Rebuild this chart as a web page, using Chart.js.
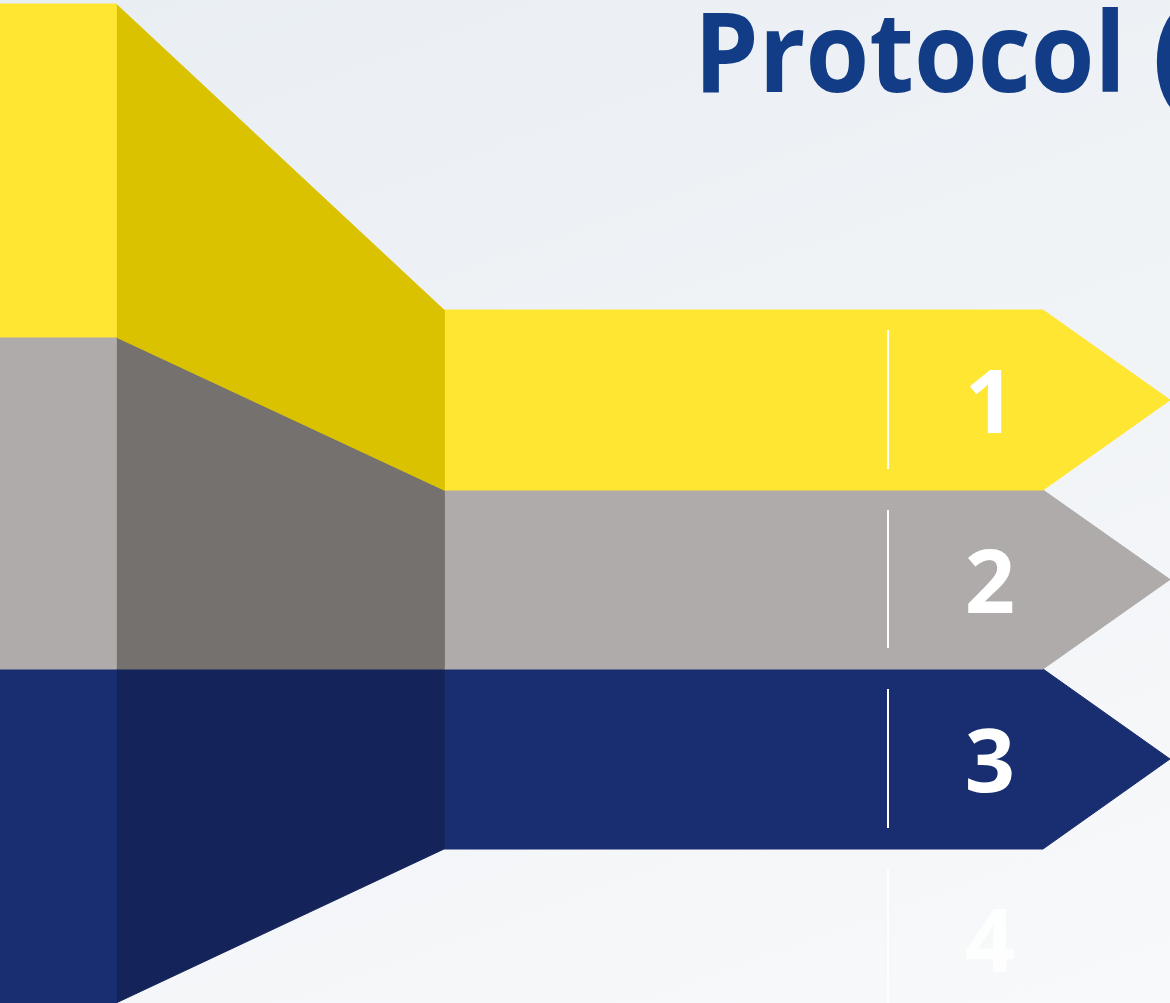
<!DOCTYPE html>
<html>
<head>
<meta charset="utf-8">
<script src="https://cdn.jsdelivr.net/npm/chart.js@4.4.1/dist/chart.umd.min.js"></script>
<style>
    html, body {
        margin: 0;
        padding: 0;
        width: 1170px;
        height: 1003px;
        overflow: hidden;
        background: linear-gradient(160deg, #e9eef3 0%, #f1f4f7 55%, #f8f9fb 100%);
        font-family: "Open Sans", sans-serif;
    }
    #wrap {
        position: absolute;
        left: 0;
        top: 0;
        width: 1170px;
        height: 1003px;
    }
    #title {
        position: absolute;
        left: 694px;
        top: -28px;
        margin: 0;
        font-size: 112px;
        font-weight: 700;
        line-height: normal;
        color: #123c85;
        white-space: nowrap;
        transform-origin: left top;
    }
</style>
</head>
<body>
<div id="wrap">
    <canvas id="funnelChart"></canvas>
</div>
<h1 id="title"><span id="titleWord">Protocol</span> (</h1>

<script>
// Steps of the funnel
const steps = ['1', '2', '3', '4'];

// Band edges on the vertical axis (axis runs 0 at top to 1003 at bottom)
const columnEdges = [4, 337, 669, 1003];
const arrowEdges = [310, 490, 669, 849, 1029];

// Stages along the horizontal axis
const stageX = [-4, 116, 444, 1043, 1170];
const dividerX = 888;
const labelX = 990;

const faceColors = ['#ffe632', '#afabaa', '#192e70'];
const sideColors = ['#dbc200', '#75716f', '#14245a'];

function shape(points, color) {
    return {
        data: points.map(p => ({ x: p[0], y: p[1] })),
        borderColor: color,
        backgroundColor: color,
        borderWidth: 1,
        pointRadius: 0,
        tension: 0,
        fill: 'shape',
        order: 2
    };
}

const datasets = [];
for (let i = 0; i < 3; i++) {
    const cTop = columnEdges[i], cBot = columnEdges[i + 1];
    const aTop = arrowEdges[i], aBot = arrowEdges[i + 1];
    const mid = (aTop + aBot) / 2;

    // left column block
    datasets.push(shape([[stageX[0], cTop], [stageX[1], cTop], [stageX[1], cBot], [stageX[0], cBot], [stageX[0], cTop]], faceColors[i]));
    // slanted side
    datasets.push(shape([[stageX[1], cTop], [stageX[2], aTop], [stageX[2], aBot], [stageX[1], cBot], [stageX[1], cTop]], sideColors[i]));
    // arrow
    datasets.push(shape([[stageX[2], aTop], [stageX[3], aTop], [stageX[4], mid], [stageX[3], aBot], [stageX[2], aBot], [stageX[2], aTop]], faceColors[i]));
}

// white divider lines in front of the numbers
steps.forEach((s, i) => {
    const aTop = arrowEdges[i], aBot = arrowEdges[i + 1];
    datasets.push({
        data: [{ x: dividerX, y: aTop + 20 }, { x: dividerX, y: i < 3 ? aBot - 21 : 1010 }],
        borderColor: i < 3 ? '#ffffff' : 'rgba(255,255,255,0.85)',
        borderWidth: 2,
        pointRadius: 0,
        fill: false,
        order: 0
    });
});

// Number labels drawn through the scales
const stepLabels = {
    id: 'stepLabels',
    afterDatasetsDraw(chart) {
        const { ctx, scales: { x, y } } = chart;
        ctx.save();
        ctx.font = '700 88px "Open Sans"';
        ctx.textAlign = 'center';
        ctx.textBaseline = 'alphabetic';
        steps.forEach((s, i) => {
            const mid = (arrowEdges[i] + arrowEdges[i + 1]) / 2;
            ctx.fillStyle = i < 3 ? '#ffffff' : 'rgba(255,255,255,0.8)';
            ctx.fillText(s, x.getPixelForValue(labelX), y.getPixelForValue(mid + 33));
        });
        ctx.restore();
    }
};

const wrap = document.getElementById('wrap');
const canvas = document.getElementById('funnelChart');
new Chart(canvas.getContext('2d'), {
    type: 'line',
    data: { datasets: datasets },
    options: {
        responsive: true,
        maintainAspectRatio: false,
        animation: false,
        layout: { padding: 0 },
        scales: {
            x: { type: 'linear', min: 0, max: 1170, display: false },
            y: { type: 'linear', min: 0, max: 1003, reverse: true, display: false }
        },
        plugins: {
            legend: { display: false },
            tooltip: { enabled: false }
        }
    },
    plugins: [stepLabels]
});

// squeeze the title so it matches the narrower original face
const word = document.getElementById('titleWord');
const w = word.getBoundingClientRect().width;
document.getElementById('title').style.transform = 'scaleX(' + (432 / w) + ')';
</script>
</body>
</html>
